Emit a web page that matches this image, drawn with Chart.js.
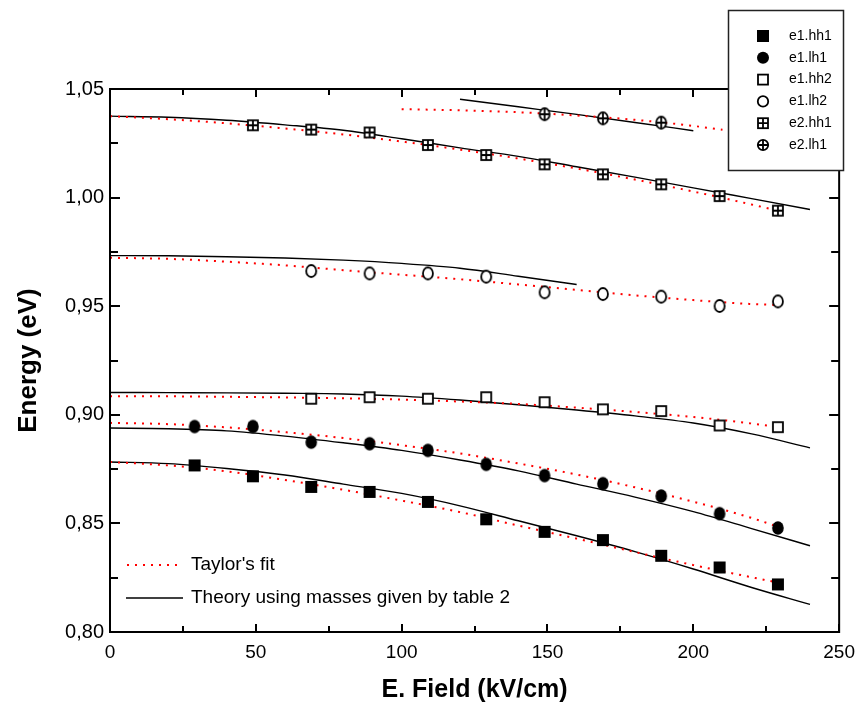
<!DOCTYPE html>
<html>
<head>
<meta charset="utf-8">
<script src="https://cdn.jsdelivr.net/npm/chart.js@4.4.1/dist/chart.umd.min.js"></script>
<style>
  html, body { margin: 0; padding: 0; background: #fff; }
  #chart1 { display: block; }
</style>
</head>
<body>
<canvas id="chart1" width="864" height="709"></canvas>
<script>
// measured points (E. Field in kV/cm, energy in eV)
const fieldX = [29, 49, 69, 89, 109, 129, 149, 169, 189, 209, 229];
const e1hh1 = [0.8767, 0.8717, 0.8668, 0.8645, 0.8599, 0.8519, 0.8461, 0.8423, 0.8351, 0.8297, 0.8219];
const e1lh1 = [0.8946, 0.8946, 0.8874, 0.8867, 0.8836, 0.8772, 0.8720, 0.8683, 0.8626, 0.8545, 0.8479];
const e1hh2 = [null, null, 0.9074, 0.9081, 0.9074, 0.9081, 0.9058, 0.9025, 0.9017, 0.8951, 0.8943];
const e1lh2 = [null, null, 0.9662, 0.9651, 0.9651, 0.9636, 0.9564, 0.9556, 0.9544, 0.9501, 0.9522];
const e2hh1 = [null, 1.0333, 1.0313, 1.0300, 1.0242, 1.0196, 1.0153, 1.0107, 1.0061, 1.0007, 0.9940];
const e2lh1 = [null, null, null, null, null, null, 1.0384, 1.0365, 1.0345, null, null];

// Taylor's fit (red dotted)
const taylorX = [0, 20, 40, 60, 80, 100, 120, 140, 160, 180, 200, 220, 230];
const taylorE1hh1 = [0.8783, 0.8767, 0.8740, 0.8700, 0.8655, 0.8605, 0.8552, 0.8490, 0.8430, 0.8368, 0.8308, 0.8252, 0.8225];
const taylorE1lh1 = [0.8963, 0.8957, 0.8942, 0.8920, 0.8893, 0.8860, 0.8822, 0.8776, 0.8725, 0.8666, 0.8600, 0.8525, 0.8480];
const taylorE1hh2 = [0.9085, 0.9085, 0.9083, 0.9080, 0.9076, 0.9070, 0.9061, 0.9050, 0.9033, 0.9013, 0.8990, 0.8960, 0.8943];
const taylorE1lh2 = [0.9723, 0.9718, 0.9705, 0.9688, 0.9666, 0.9645, 0.9624, 0.9600, 0.9575, 0.9550, 0.9528, 0.9510, 0.9505];
const taylorE2hh1 = [1.0375, 1.0361, 1.0342, 1.0318, 1.0291, 1.0258, 1.0221, 1.0180, 1.0134, 1.0083, 1.0028, 0.9968, 0.9937];
const taylorX2 = [100, 120, 140, 160, 180, 200, 210];
const taylorE2lh1 = [1.0407, 1.0402, 1.0393, 1.0378, 1.0358, 1.0330, 1.0312];

// theory with masses from table 2 (black)
const theoryX = [0, 20, 40, 60, 80, 100, 120, 140, 160, 180, 200, 220, 240];
const theoryE1hh1 = [0.8783, 0.8775, 0.8753, 0.8723, 0.8681, 0.8638, 0.8581, 0.8512, 0.8443, 0.8370, 0.8290, 0.8205, 0.8127];
const theoryE1lh1 = [0.8939, 0.8936, 0.8926, 0.8902, 0.8871, 0.8836, 0.8792, 0.8742, 0.8681, 0.8621, 0.8554, 0.8476, 0.8397];
const theoryE1hh2 = [0.9103, 0.9102, 0.9101, 0.9099, 0.9096, 0.9086, 0.9068, 0.9046, 0.9022, 0.8995, 0.8962, 0.8912, 0.8848];
const theoryE2hh1 = [1.0375, 1.0370, 1.0356, 1.0335, 1.0310, 1.0271, 1.0229, 1.0190, 1.0142, 1.0094, 1.0045, 0.9995, 0.9945];
const theoryX2 = [0, 20, 40, 60, 80, 100, 120, 140, 160];
const theoryE1lh2 = [0.9733, 0.9732, 0.9728, 0.9722, 0.9712, 0.9697, 0.9675, 0.9638, 0.9600];
const theoryX3 = [120, 140, 160, 180, 200];
const theoryE2lh1 = [1.0453, 1.0418, 1.0383, 1.0346, 1.0308];

const seriesNames = ["e1.hh1", "e1.lh1", "e1.hh2", "e1.lh2", "e2.hh1", "e2.lh1"];
const xTickMinor = [0, 25, 50, 75, 100, 125, 150, 175, 200, 225, 250];
const yTickMinor = [0.8, 0.825, 0.85, 0.875, 0.9, 0.925, 0.95, 0.975, 1.0, 1.025, 1.05];

const FONT = "'Liberation Sans', Arial, sans-serif";

function pts(xs, ys) {
  return xs.map((x, i) => ({ x: x, y: ys[i] })).filter(p => p.y !== null);
}

// marker glyphs; rx/ry let the plot circles be a bit taller, as in the original
function drawMarker(ctx, kind, cx, cy, rx, ry) {
  ctx.save();
  ctx.lineWidth = 1.8;
  ctx.strokeStyle = "#000";
  ctx.fillStyle = "#000";
  const h = 6;
  if (kind === 0) {
    ctx.fillRect(cx - h, cy - h, 2 * h, 2 * h);
  } else if (kind === 1) {
    ctx.beginPath(); ctx.ellipse(cx, cy, rx, ry, 0, 0, Math.PI * 2); ctx.fill();
  } else if (kind === 2 || kind === 4) {
    ctx.fillStyle = "#fff";
    ctx.fillRect(cx - h + 1, cy - h + 1, 2 * h - 2, 2 * h - 2);
    ctx.strokeRect(cx - h + 1, cy - h + 1, 2 * h - 2, 2 * h - 2);
    if (kind === 4) {
      ctx.beginPath();
      ctx.moveTo(cx - h + 1, cy); ctx.lineTo(cx + h - 1, cy);
      ctx.moveTo(cx, cy - h + 1); ctx.lineTo(cx, cy + h - 1);
      ctx.stroke();
    }
  } else {
    ctx.fillStyle = "#fff";
    ctx.beginPath(); ctx.ellipse(cx, cy, rx - 0.8, ry - 0.8, 0, 0, Math.PI * 2); ctx.fill(); ctx.stroke();
    if (kind === 5) {
      ctx.beginPath();
      ctx.moveTo(cx - rx + 0.8, cy); ctx.lineTo(cx + rx - 0.8, cy);
      ctx.moveTo(cx, cy - ry + 0.8); ctx.lineTo(cx, cy + ry - 0.8);
      ctx.stroke();
    }
  }
  ctx.restore();
}

const markerImgs = seriesNames.map((n, k) => {
  const c = document.createElement("canvas");
  c.width = 18; c.height = 18;
  drawMarker(c.getContext("2d"), k, 9, 9, 5.8, 6.8);
  return c;
});

const pointSets = [e1hh1, e1lh1, e1hh2, e1lh2, e2hh1, e2lh1].map((ys, k) => ({
  label: seriesNames[k],
  data: pts(fieldX, ys),
  pointStyle: markerImgs[k],
  pointRadius: 7,
  showLine: false,
  order: 1
}));

function fitLine(xs, ys, red) {
  return {
    label: red ? "Taylor's fit" : "Theory",
    data: pts(xs, ys),
    showLine: true,
    pointRadius: 0,
    borderColor: red ? "#ff0000" : "#000",
    borderWidth: red ? 2 : 1.4,
    borderDash: red ? [2, 6] : [],
    cubicInterpolationMode: "monotone",
    fill: false,
    order: 2
  };
}

const lineSets = [
  fitLine(taylorX, taylorE1hh1, true),
  fitLine(taylorX, taylorE1lh1, true),
  fitLine(taylorX, taylorE1hh2, true),
  fitLine(taylorX, taylorE1lh2, true),
  fitLine(taylorX, taylorE2hh1, true),
  fitLine(taylorX2, taylorE2lh1, true),
  fitLine(theoryX, theoryE1hh1, false),
  fitLine(theoryX, theoryE1lh1, false),
  fitLine(theoryX, theoryE1hh2, false),
  fitLine(theoryX2, theoryE1lh2, false),
  fitLine(theoryX, theoryE2hh1, false),
  fitLine(theoryX3, theoryE2lh1, false)
];

// box frame with inward ticks + both legends
Chart.register({
  id: "frameAndLegends",
  afterDraw: function (chart) {
    const ctx = chart.ctx;
    const a = chart.chartArea;
    const xs = chart.scales.x, ys = chart.scales.y;
    ctx.save();
    ctx.strokeStyle = "#000";
    ctx.lineWidth = 2;
    ctx.strokeRect(a.left, a.top, a.right - a.left, a.bottom - a.top);
    ctx.beginPath();
    xTickMinor.forEach((v, i) => {
      const px = Math.round(xs.getPixelForValue(v));
      const len = i % 2 === 0 ? 8 : 6;
      ctx.moveTo(px, a.bottom); ctx.lineTo(px, a.bottom - len);
      ctx.moveTo(px, a.top); ctx.lineTo(px, a.top + len);
    });
    yTickMinor.forEach((v, i) => {
      const py = Math.round(ys.getPixelForValue(v));
      const len = i % 2 === 0 ? 10 : 8;
      ctx.moveTo(a.left, py); ctx.lineTo(a.left + len, py);
      ctx.moveTo(a.right, py); ctx.lineTo(a.right - len, py);
    });
    ctx.stroke();

    // symbol legend, top right
    ctx.fillStyle = "#fff";
    ctx.fillRect(728, 10, 115, 160);
    ctx.lineWidth = 1.5;
    ctx.strokeStyle = "#222";
    ctx.strokeRect(728.5, 10.5, 115, 160);
    ctx.font = "14px " + FONT;
    ctx.fillStyle = "#000";
    ctx.textBaseline = "middle";
    ctx.textAlign = "left";
    seriesNames.forEach((n, k) => {
      const y = 36 + k * 21.8;
      drawMarker(ctx, k, 763, y, 6, 6);
      ctx.fillText(n, 789, y);
    });

    // line legend, bottom left
    ctx.font = "19px " + FONT;
    ctx.lineWidth = 2;
    ctx.strokeStyle = "#ff0000";
    ctx.setLineDash([2, 6]);
    ctx.beginPath(); ctx.moveTo(127, 565); ctx.lineTo(180, 565); ctx.stroke();
    ctx.setLineDash([]);
    ctx.strokeStyle = "#000";
    ctx.lineWidth = 1.4;
    ctx.beginPath(); ctx.moveTo(126, 598); ctx.lineTo(183, 598); ctx.stroke();
    ctx.fillText("Taylor's fit", 191, 565);
    ctx.fillText("Theory using masses given by table 2", 191, 598);
    ctx.restore();
  }
});

Chart.defaults.font.family = FONT;
Chart.defaults.color = "#000";

new Chart(document.getElementById("chart1"), {
  type: "scatter",
  data: { datasets: lineSets.concat(pointSets) },
  options: {
    responsive: false,
    animation: false,
    layout: { padding: { top: 89, right: 21, left: 0, bottom: 0 } },
    plugins: { legend: { display: false }, tooltip: { enabled: false } },
    scales: {
      x: {
        type: "linear",
        min: 0, max: 250,
        grid: { display: false, drawTicks: false },
        border: { display: false },
        ticks: { stepSize: 50, padding: 9, font: { size: 19 }, maxRotation: 0 },
        title: { display: true, text: "E. Field (kV/cm)", font: { size: 25, weight: "bold" }, padding: { top: 0, bottom: 4 } },
        afterFit: function (s) { s.height = 77; }
      },
      y: {
        type: "linear",
        min: 0.8, max: 1.05,
        grid: { display: false, drawTicks: false },
        border: { display: false },
        ticks: {
          stepSize: 0.05, padding: 6, font: { size: 20 },
          callback: function (v) { return v.toFixed(2).replace(".", ","); }
        },
        title: { display: true, text: "Energy (eV)", font: { size: 26, weight: "bold" }, padding: { top: 13, bottom: 0 } },
        afterFit: function (s) { s.width = 110; }
      }
    }
  }
});
</script>
</body>
</html>
